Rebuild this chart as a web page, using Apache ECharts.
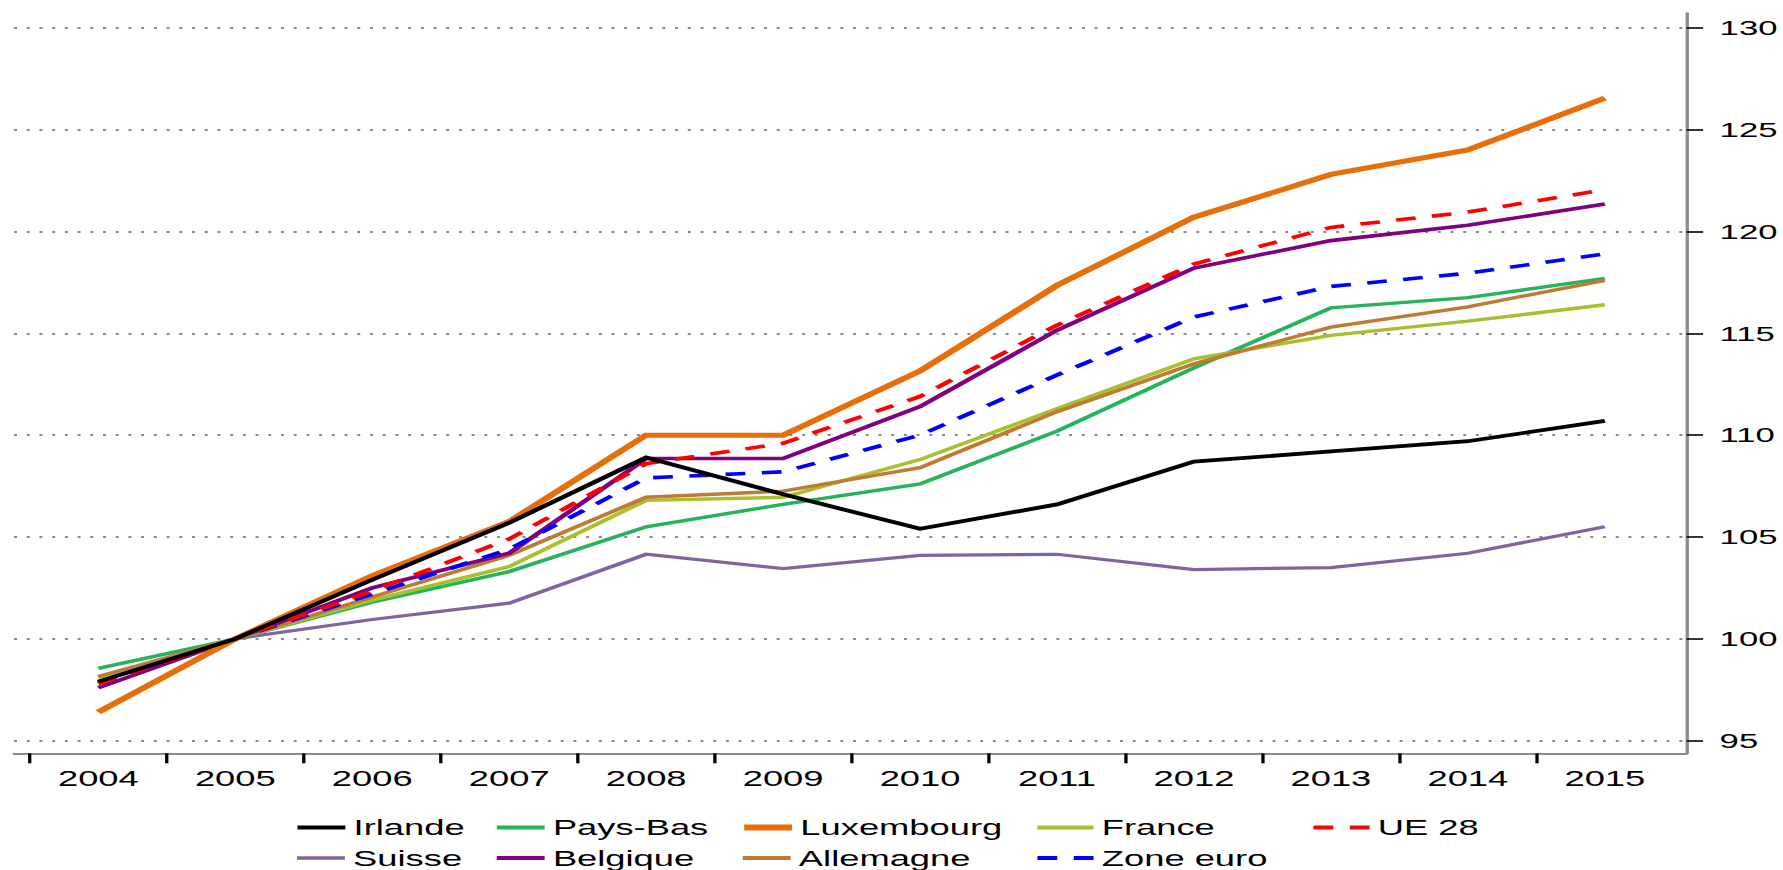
<!DOCTYPE html>
<html lang="fr">
<head>
<meta charset="utf-8">
<title>Indices 2004-2015 (2005 = 100)</title>
<script src="https://cdn.jsdelivr.net/npm/echarts@6/dist/echarts.min.js"></script>
<style>
  html, body { margin: 0; padding: 0; background: #ffffff; overflow: hidden; }
  body { width: 1783px; height: 870px; }
  /* The chart is laid out on a narrower canvas and widened to the page width */
  #chart { width: 1080px; height: 870px; transform: scaleX(1.650926); transform-origin: 0 0; }
</style>
</head>
<body>
<div id="chart"></div>
<script>
// Years on the horizontal axis
const years = ['2004', '2005', '2006', '2007', '2008', '2009', '2010', '2011', '2012', '2013', '2014', '2015'];

// Tick labels on the right-hand value axis
const yTicks = [95, 100, 105, 110, 115, 120, 125, 130];

// Index values (2005 = 100)
const irlande    = [97.9, 100, 102.9, 105.7, 108.9, 107.1, 105.4, 106.6, 108.7, 109.2, 109.7, 110.7];
const paysBas    = [98.55, 100, 101.8, 103.3, 105.5, 106.6, 107.6, 110.2, 113.3, 116.25, 116.75, 117.7];
const luxembourg = [96.4, 100, 103.1, 105.75, 110.0, 110.0, 113.15, 117.35, 120.7, 122.8, 124.0, 126.55];
const france     = [98.1, 100, 101.9, 103.55, 106.8, 106.95, 108.8, 111.3, 113.75, 114.9, 115.6, 116.4];
const ue28       = [97.8, 100, 102.35, 104.9, 108.6, 109.6, 111.9, 115.4, 118.4, 120.2, 120.95, 122.05];
const suisse     = [97.9, 100, 100.95, 101.75, 104.15, 103.45, 104.1, 104.15, 103.4, 103.5, 104.2, 105.5];
const belgique   = [97.6, 100, 102.5, 104.2, 108.85, 108.85, 111.4, 115.15, 118.2, 119.55, 120.3, 121.35];
const allemagne  = [98.15, 100, 102.05, 104.1, 106.95, 107.25, 108.4, 111.15, 113.5, 115.3, 116.3, 117.6];
const zoneEuro   = [97.85, 100, 102.2, 104.4, 107.9, 108.2, 110.0, 112.95, 115.8, 117.3, 117.95, 118.9];

const FONT = "'Liberation Sans', Arial, sans-serif";

function line(name, values, color, width, dashed) {
  return {
    name: name,
    type: 'line',
    data: values.map((v, i) => [i, v]),
    symbol: 'none',
    showSymbol: false,
    color: color,
    lineStyle: { color: color, width: width, type: dashed ? [12, 10] : 'solid', cap: 'butt', join: 'miter' },
    emphasis: { disabled: true },
    silent: true
  };
}

// Drawing order: later series sit on top
const series = [
  line('Suisse', suisse, '#8064a2', 3.2, false),
  line('Pays-Bas', paysBas, '#27b35c', 3.4, false),
  line('France', france, '#a8c02c', 3.4, false),
  line('Allemagne', allemagne, '#bf7a33', 3.4, false),
  line('Belgique', belgique, '#800080', 3.6, false),
  line('Zone euro', zoneEuro, '#0000ff', 3.6, true),
  line('UE 28', ue28, '#ff0000', 3.6, true),
  line('Luxembourg', luxembourg, '#e66f0c', 5, false),
  line('Irlande', irlande, '#000000', 3.8, false)
];

// Legend laid out as a two-row table
const legendCols = [178.1, 298.8, 447.8, 626.3, 793.5];
const legendRows = [816.5, 847];
const legendCells = [
  ['Irlande', 0, 0, 29, 4.2], ['Pays-Bas', 0, 1, 29, 4.2], ['Luxembourg', 0, 2, 29, 6],
  ['France', 0, 3, 34, 4.2], ['UE 28', 0, 4, 34, 4.2],
  ['Suisse', 1, 0, 29, 3.6], ['Belgique', 1, 1, 29, 4.2], ['Allemagne', 1, 2, 29, 4.2],
  ['Zone euro', 1, 3, 34, 4.2]
];
const legends = legendCells.map(([name, r, c, w, lw]) => ({
  data: [name],
  left: legendCols[c],
  top: legendRows[r],
  padding: 0,
  itemWidth: w,
  itemHeight: 14,
  selectedMode: false,
  itemStyle: { opacity: 0, borderWidth: 0 },
  lineStyle: { width: lw },
  textStyle: { fontFamily: FONT, fontSize: 22, color: '#000000' }
}));

const option = {
  animation: false,
  backgroundColor: '#ffffff',
  grid: { left: 8.5, right: 58.4, top: 13.3, bottom: 116.7 },
  legend: legends,
  xAxis: {
    type: 'value',
    min: -0.6155,
    max: 11.597,
    axisLine: { show: true, onZero: false, lineStyle: { color: '#8c8c8c', width: 2 } },
    axisTick: {
      show: true,
      customValues: years.map((_, i) => i - 0.5),
      length: 10,
      lineStyle: { color: '#000000', width: 2 }
    },
    axisLabel: {
      customValues: years.map((_, i) => i),
      formatter: v => years[Math.round(v)],
      fontFamily: FONT,
      fontSize: 22,
      color: '#000000',
      margin: 14
    },
    splitLine: { show: false }
  },
  yAxis: {
    type: 'value',
    position: 'right',
    min: 94.38,
    max: 130.71,
    axisLine: { show: true, onZero: false, lineStyle: { color: '#8c8c8c', width: 2 } },
    axisTick: {
      show: true,
      customValues: yTicks,
      length: 10,
      lineStyle: { color: '#000000', width: 1.6 }
    },
    axisLabel: {
      customValues: yTicks,
      fontFamily: FONT,
      fontSize: 21,
      color: '#000000',
      margin: 20
    },
    splitLine: {
      show: true,
      lineStyle: { color: '#8a8a8a', width: 2, type: [1.8, 5.9] }
    }
  },
  series: series
};

const chart = echarts.init(document.getElementById('chart'), null, { renderer: 'svg' });
chart.setOption(option);
</script>
</body>
</html>
